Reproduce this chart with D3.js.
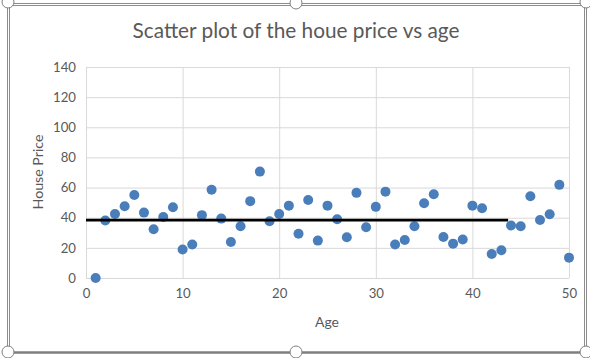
<!DOCTYPE html>
<html><head><meta charset="utf-8">
<script src="https://cdn.jsdelivr.net/npm/d3@7"></script>
<style>body{margin:0;background:#fff}svg{display:block}text{font-family:Lato,"Open Sans",sans-serif}</style>
</head><body>
<svg id="c" width="590" height="358"></svg>
<script>
const ages = d3.range(1, 51);
const prices = [0, 38.1, 42.5, 47.6, 55.1, 43.4, 32.3, 40.5, 47, 18.9,
  22.2, 41.7, 58.5, 39.4, 23.9, 34.3, 51, 70.6, 37.7, 42.5,
  48, 29.4, 51.8, 24.8, 48, 39, 27, 56.5, 33.7, 47.2,
  57.3, 22.2, 25.2, 34.3, 49.6, 55.6, 27.2, 22.8, 25.5, 48,
  46.3, 15.9, 18.4, 34.8, 34.3, 54.3, 38.5, 42.3, 61.8, 13.5];
const lineX = [0, 43.7];
const lineY = [38.4, 38.4];
const xTicks = [0, 10, 20, 30, 40, 50];
const yTicks = [0, 20, 40, 60, 80, 100, 120, 140];

const svg = d3.select("#c");
const L = 86, R = 569, T = 67, B = 278;
const x = d3.scaleLinear().domain([0, 50]).range([L, R]);
const y = d3.scaleLinear().domain([0, 140]).range([B, T]);

function fit(sel, size, target) {
  sel.attr("font-size", size);
  const w = sel.node().getComputedTextLength();
  sel.attr("font-size", (size * target / w).toFixed(2));
}

// frame
const fr = svg.append("g").attr("fill", "none").attr("stroke", "#8c8c8c");
fr.append("path").attr("d", "M7.5,3.5H586.5V352").attr("stroke-width", 1);
fr.append("path").attr("d", "M9.5,5.5H584.5V352").attr("stroke-width", 1);
fr.append("path").attr("d", "M7.5,3.5V352").attr("stroke-width", 1);
fr.append("path").attr("d", "M9.5,5.5V352").attr("stroke-width", 1);
fr.append("line").attr("x1", 7).attr("x2", 588).attr("y1", 352.5).attr("y2", 352.5).attr("stroke-width", 2.5).attr("stroke", "#7f7f7f");

// axes / gridlines
const gx = svg.append("g").attr("transform", `translate(0,${B})`)
  .call(d3.axisBottom(x).tickValues(xTicks).tickSize(-(B - T)).tickPadding(11));
const gy = svg.append("g").attr("transform", `translate(${L},0)`)
  .call(d3.axisLeft(y).tickValues(yTicks).tickSize(-(R - L)).tickPadding(10));
[gx, gy].forEach(g => {
  g.select(".domain").remove();
  g.selectAll("line").attr("stroke", "#d9d9d9").attr("stroke-width", 1);
  g.selectAll("text").attr("fill", "#595959").attr("font-size", 13.2)
    .attr("font-family", "Lato, 'Open Sans', sans-serif");
});

// points
svg.append("g").selectAll("circle").data(ages).join("circle")
  .attr("cx", (d) => x(d)).attr("cy", (d, i) => y(prices[i])).attr("r", 5)
  .attr("fill", "#4a7ebb");

// line
svg.append("path")
  .attr("d", d3.line().x((d, i) => x(lineX[i])).y((d, i) => y(lineY[i]))(lineX))
  .attr("stroke", "#000").attr("stroke-width", 2.75).attr("fill", "none");

// titles
const t = svg.append("text").attr("x", 296).attr("y", 38).attr("text-anchor", "middle")
  .attr("fill", "#595959").text("Scatter plot of the houe price vs age");
fit(t, 18.5, 327);
const ax = svg.append("text").attr("x", 327).attr("y", 327).attr("text-anchor", "middle")
  .attr("fill", "#595959").text("Age");
fit(ax, 13.3, 24);
const ay = svg.append("text").attr("transform", "translate(43,172) rotate(-90)").attr("text-anchor", "middle")
  .attr("fill", "#595959").text("House Price");
fit(ay, 13.3, 75);

// handles
const hs = [[8, 2], [296, 3], [586, 2], [8, 352], [296, 352], [586, 352]];
svg.append("g").selectAll("circle").data(hs).join("circle")
  .attr("cx", d => d[0]).attr("cy", d => d[1]).attr("r", 6)
  .attr("fill", "#fff").attr("stroke", "#7f7f7f").attr("stroke-width", 1);
</script>
</body></html>
